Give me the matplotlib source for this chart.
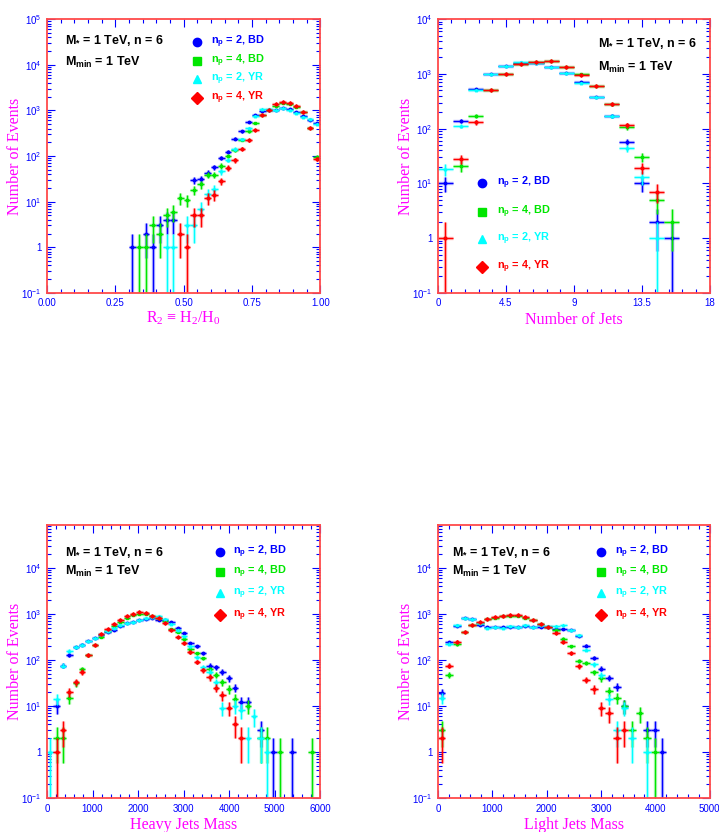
import matplotlib
matplotlib.use('Agg')
import matplotlib.pyplot as plt
import numpy as np
from matplotlib.ticker import LogLocator, MultipleLocator, FuncFormatter, NullFormatter

plt.rcParams['font.family'] = ['Liberation Sans', 'DejaVu Sans']
plt.rcParams['mathtext.default'] = 'regular'

# R2 = H2/H0, bin width 0.025
r2_width = 0.025
r2_bd2_bins = [12, 14, 15, 16, 17, 18] + list(range(21, 40))
r2_bd2 = [1, 2, 1, 3, 4, 4, 30, 31, 42, 57, 90, 125, 240, 346, 555, 780, 950, 1000,
          1000, 1100, 1060, 900, 740, 600, 530]
r2_bd4_bins = list(range(13, 40))
r2_bd4 = [1, 1, 3, 2, 5, 6, 12, 11, 18, 24, 39, 39, 61, 101, 133, 228, 346, 540, 800,
          1040, 1260, 1450, 1400, 1200, 900, 410, 95]
r2_yr2_bins = [17, 18] + list(range(20, 40))
r2_yr2 = [1, 1, 3, 3, 7, 15, 19, 46, 83, 142, 236, 420, 760, 1050, 1050, 1000, 1100,
          1000, 870, 720, 640, 500]
r2_yr4_bins = list(range(19, 40))
r2_yr4 = [2, 1, 5, 5, 12, 14, 28, 55, 80, 145, 220, 378, 780, 1040, 1400, 1500, 1450,
          1230, 920, 410, 88]

# number of jets, bin width 1
nj_width = 1.0
nj_bd2_bins = list(range(0, 16))
nj_bd2 = [10, 140, 540, 1000, 1400, 1600, 1550, 1350, 1050, 720, 380, 170, 58, 10, 2, 1]
nj_bd4_bins = list(range(1, 16))
nj_bd4 = [21, 170, 510, 1000, 1500, 1650, 1700, 1350, 980, 600, 280, 105, 30, 5, 2]
nj_yr2_bins = list(range(0, 15))
nj_yr2 = [18, 113, 500, 1000, 1400, 1650, 1600, 1350, 1050, 680, 380, 170, 44, 13, 1]
nj_yr4_bins = list(range(0, 15))
nj_yr4 = [1, 28, 130, 510, 1000, 1500, 1650, 1700, 1350, 970, 600, 280, 115, 19, 7]

# heavy jets mass, bin width 140
hm_width = 140.0
hm_bd2_bins = list(range(1, 32)) + [33, 35, 38]
hm_bd2 = [10, 75, 128, 190, 214, 260, 295, 350, 400, 445, 540, 620, 680, 720, 780, 830,
          750, 720, 670, 490, 380, 230, 197, 140, 75, 69, 55, 40, 25, 12, 12, 3, 1, 1]
hm_bd4_bins = list(range(1, 30)) + [31, 33, 34, 36, 41]
hm_bd4 = [2, 2, 15, 31, 63, 125, 210, 320, 420, 550, 680, 800, 950, 1000, 1000, 920,
          830, 700, 480, 410, 280, 170, 140, 108, 63, 47, 33, 23, 14, 10, 2, 2, 1, 1]
hm_yr2_bins = list(range(0, 28)) + [29, 30, 31, 32, 33, 34]
hm_yr2 = [1, 14, 75, 158, 193, 214, 260, 295, 370, 430, 500, 580, 630, 680, 740, 800,
          860, 910, 760, 600, 450, 330, 200, 113, 70, 55, 33, 9, 10, 8, 2, 6, 2, 1]
hm_yr4_bins = list(range(1, 31))
hm_yr4 = [1, 3, 20, 33, 55, 125, 210, 365, 465, 600, 740, 880, 990, 1100, 1050, 910,
          800, 630, 450, 310, 230, 146, 90, 59, 42, 25, 17, 9, 4, 2]

# light jets mass, bin width 140
lm_width = 140.0
lm_bd2_bins = list(range(0, 25)) + [27, 28, 29]
lm_bd2 = [19, 246, 540, 800, 790, 580, 520, 530, 510, 510, 510, 540, 530, 530, 530,
          470, 470, 455, 337, 205, 110, 65, 41, 26, 10, 3, 3, 1]
lm_bd4_bins = list(range(0, 29))
lm_bd4 = [3, 47, 220, 405, 570, 640, 770, 830, 890, 910, 900, 820, 720, 610, 520, 440,
          290, 198, 94, 86, 54, 40, 21, 15, 10, 3, 7, 2, 1]
lm_yr2_bins = list(range(0, 26)) + [27]
lm_yr2 = [15, 225, 570, 810, 790, 620, 500, 510, 500, 550, 520, 560, 530, 560, 540, 540,
          560, 455, 355, 168, 80, 48, 14, 3, 9, 2, 1]
lm_yr4_bins = list(range(0, 25))
lm_yr4 = [2, 75, 250, 405, 580, 650, 790, 850, 920, 930, 930, 850, 750, 610, 530, 385,
          250, 140, 73, 37, 23, 9, 7, 2, 3]

labels = [r'n$_{p}$ = 2, BD', r'n$_{p}$ = 4, BD', r'n$_{p}$ = 2, YR', r'n$_{p}$ = 4, YR']
colors = ['#0000ff', '#00e600', '#00ffff', '#ff0000']
markers = ['o', 's', '^', 'D']


def draw_hist(ax, bins, counts, width, color, marker):
    x = (np.asarray(bins, float) + 0.5) * width
    n = np.asarray(counts, float)
    err = np.sqrt(n)
    lo = np.clip(n - err, 1e-3, None)
    yerr = [n - lo, err]
    # soft halo first, then the sharp bar on top
    for lw, a in ((2.4, 0.3), (0.9, 1.0)):
        ax.errorbar(x, n, xerr=width / 2, yerr=yerr, fmt='none', ecolor=color,
                    elinewidth=lw, alpha=a, capsize=0)
    ax.plot(x, n, marker, color=color, ms=1.8, ls='none')


def decade_label(v, pos):
    e = int(round(np.log10(v)))
    return '1' if e == 0 else '$10^{%d}$' % e


def style_axes(ax, xmax, xmajor, xminor, xlabels, ymax):
    ax.set_yscale('log')
    ax.set_xlim(0, xmax)
    ax.set_ylim(0.1, ymax)
    ax.set_xticks(np.arange(0, xmax + xmajor / 2, xmajor))
    ax.set_xticklabels(xlabels)
    ax.xaxis.set_minor_locator(MultipleLocator(xminor))
    ax.yaxis.set_major_locator(LogLocator(base=10, numticks=12))
    ax.yaxis.set_minor_locator(LogLocator(base=10, subs=np.arange(2, 10), numticks=12))
    ax.yaxis.set_major_formatter(FuncFormatter(decade_label))
    ax.yaxis.set_minor_formatter(NullFormatter())
    ax.tick_params(which='both', direction='in', top=True, right=True,
                   colors='#0000ff', labelsize=7)
    ax.tick_params(which='major', length=6, width=0.8, pad=4)
    ax.tick_params(which='minor', length=3, width=0.8)
    for s in ax.spines.values():
        s.set_color('#ff4a4a')
        s.set_linewidth(1.3)


def axis_labels(ax, xlab, xy):
    serif = ['Liberation Serif', 'DejaVu Serif']
    ax.set_xlabel(xlab, color='#ff00ff', fontsize=11.5, family=serif, va='center')
    ax.xaxis.set_label_coords(0.5, xy)
    ax.set_ylabel('Number of Events', color='#ff00ff', fontsize=11.5, family=serif,
                  va='center')
    ax.yaxis.set_label_coords(-0.117, 0.5)


def header(ax, x, y1, y2):
    ax.text(x, y1, r'M$_{*}$ = 1 TeV, n = 6', transform=ax.transAxes,
            fontsize=9, fontweight='bold', va='center')
    ax.text(x, y2, r'M$_{min}$ = 1 TeV', transform=ax.transAxes,
            fontsize=9, fontweight='bold', va='center')


def legend(ax, xm, xt, ys):
    for lab, c, m, y in zip(labels, colors, markers, ys):
        ax.plot([xm], [y], m, color=c, ms=6, transform=ax.transAxes, clip_on=False)
        ax.text(xt, y, lab, color=c, transform=ax.transAxes, fontsize=7.8,
                fontweight='bold', va='center')


fig = plt.figure(figsize=(7.19, 8.32), dpi=100)
ax1 = fig.add_axes([0.0654, 0.648, 0.380, 0.329])
ax2 = fig.add_axes([0.609, 0.648, 0.378, 0.329])
ax3 = fig.add_axes([0.0654, 0.0409, 0.380, 0.328])
ax4 = fig.add_axes([0.609, 0.0409, 0.378, 0.328])

panels = [
    (ax1, r2_width, [r2_bd2_bins, r2_bd4_bins, r2_yr2_bins, r2_yr4_bins],
     [r2_bd2, r2_bd4, r2_yr2, r2_yr4]),
    (ax2, nj_width, [nj_bd2_bins, nj_bd4_bins, nj_yr2_bins, nj_yr4_bins],
     [nj_bd2, nj_bd4, nj_yr2, nj_yr4]),
    (ax3, hm_width, [hm_bd2_bins, hm_bd4_bins, hm_yr2_bins, hm_yr4_bins],
     [hm_bd2, hm_bd4, hm_yr2, hm_yr4]),
    (ax4, lm_width, [lm_bd2_bins, lm_bd4_bins, lm_yr2_bins, lm_yr4_bins],
     [lm_bd2, lm_bd4, lm_yr2, lm_yr4]),
]
for ax, w, all_bins, all_counts in panels:
    for b, n, c, m in zip(all_bins, all_counts, colors, markers):
        draw_hist(ax, b, n, w, c, m)

style_axes(ax1, 1.0, 0.25, 0.05, ['0.00', '0.25', '0.50', '0.75', '1.00'], 1e5)
style_axes(ax2, 18, 4.5, 0.9, ['0', '4.5', '9', '13.5', '18'], 1e4)
style_axes(ax3, 6000, 1000, 200, [str(v) for v in range(0, 6001, 1000)], 8.5e4)
style_axes(ax4, 5000, 1000, 200, [str(v) for v in range(0, 5001, 1000)], 8.5e4)

axis_labels(ax1, r'R$_2$ ≡ H$_2$/H$_0$', -0.092)
axis_labels(ax2, 'Number of Jets', -0.099)
axis_labels(ax3, 'Heavy Jets Mass', -0.099)
axis_labels(ax4, 'Light Jets Mass', -0.099)

header(ax1, 0.066, 0.923, 0.843)
header(ax2, 0.588, 0.909, 0.825)
header(ax3, 0.066, 0.901, 0.831)
header(ax4, 0.051, 0.901, 0.831)

legend(ax1, 0.549, 0.60, [0.916, 0.847, 0.781, 0.712])
legend(ax2, 0.162, 0.217, [0.401, 0.296, 0.197, 0.095])
legend(ax3, 0.634, 0.681, [0.901, 0.828, 0.751, 0.670])
legend(ax4, 0.599, 0.651, [0.901, 0.828, 0.751, 0.670])

fig.savefig('out.png', dpi=100, facecolor='white')
